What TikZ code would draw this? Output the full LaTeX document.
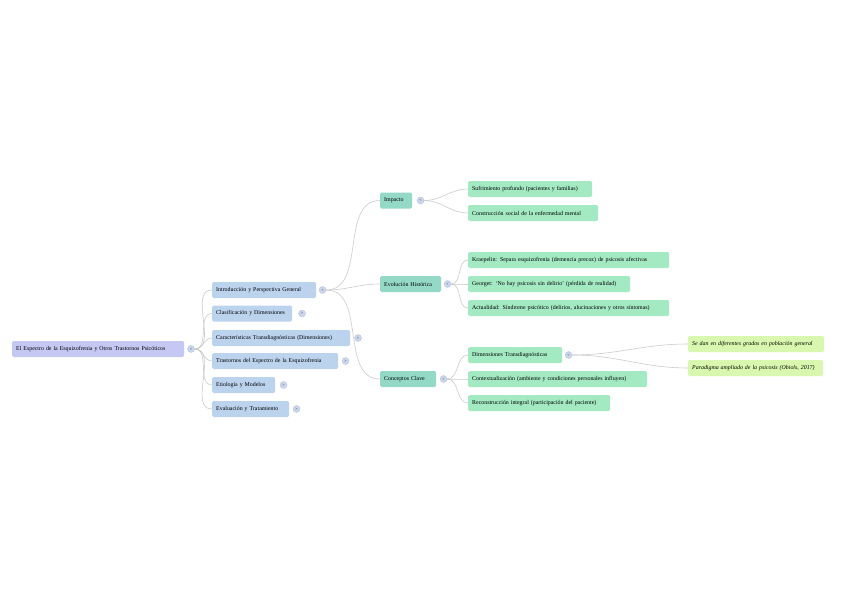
\documentclass[tikz,border=0pt]{standalone}
\usepackage{fontspec}
\setmainfont{Liberation Serif}
\usepackage{tikz}
\usetikzlibrary{positioning}
\definecolor{rootc}{HTML}{C6C8F4}
\definecolor{topicc}{HTML}{BCD3EE}
\definecolor{branchc}{HTML}{93D9C6}
\definecolor{leafc}{HTML}{A3E9C1}
\definecolor{subleafc}{HTML}{D9F7AE}
\definecolor{linkc}{HTML}{CCCCCC}
\definecolor{togglec}{HTML}{CBD7EF}
\tikzstyle{box}=[rounded corners=1.5pt, minimum height=16pt, inner xsep=4pt, inner ysep=0pt, anchor=west, align=left, font=\fontsize{5.9}{6.5}\selectfont]
\tikzstyle{root}=[box, fill=rootc]
\tikzstyle{topic}=[box, fill=topicc]
\tikzstyle{branch}=[box, fill=branchc]
\tikzstyle{leaf}=[box, fill=leafc]
\tikzstyle{subleaf}=[box, fill=subleafc, font=\fontsize{5.9}{6.5}\selectfont\itshape]
\tikzstyle{toggle}=[circle, fill=togglec, draw=togglec!70!gray, line width=0.3pt, minimum size=7pt, inner sep=0pt, font=\fontsize{4}{4}\selectfont]
\tikzstyle{link}=[draw=linkc, line width=0.6pt]

\begin{document}
\begin{tikzpicture}[x=1pt,y=-1pt,node distance=3pt]
	\useasboundingbox[fill=white] (0,0) rectangle (848,599);
	% root
	\node[root, text width=164pt] (root) at (12,349) {El Espectro de la Esquizofrenia y Otros Trastornos Psicóticos};
	\node[toggle, right=3pt of root] (tRoot) {<};
	% main topics
	\node[topic, text width=96pt] (intro) at (212,290) {Introducción y Perspectiva General};
	\node[toggle, right=2.5pt of intro] (tIntro) {<};
	\node[topic, text width=72pt] (clasif) at (212,313.5) {Clasificación y Dimensiones};
	\node[toggle, right=6pt of clasif] (tClasif) {>};
	\node[topic, text width=130pt] (caract) at (212,338) {Características Transdiagnósticas (Dimensiones)};
	\node[toggle, right=4pt of caract] (tCaract) {>};
	\node[topic, text width=118pt] (trast) at (212,361) {Trastornos del Espectro de la Esquizofrenia};
	\node[toggle, right=3.5pt of trast] (tTrast) {>};
	\node[topic, text width=55pt] (etiol) at (212,385) {Etiología y Modelos};
	\node[toggle, right=4.5pt of etiol] (tEtiol) {>};
	\node[topic, text width=69pt] (evalua) at (212,409) {Evaluación y Tratamiento};
	\node[toggle, right=3.5pt of evalua] (tEvalua) {>};
	% branches of the introduction
	\node[branch, text width=24pt] (impacto) at (380,200.5) {Impacto};
	\node[toggle, right=4.5pt of impacto] (tImpacto) {<};
	\node[branch, text width=53pt] (evol) at (380,284) {Evolución Histórica};
	\node[toggle, right=2.5pt of evol] (tEvol) {<};
	\node[branch, text width=48pt] (concep) at (380,379) {Conceptos Clave};
	\node[toggle, right=3.5pt of concep] (tConcep) {<};
	% leaves
	\node[leaf, text width=116pt] (sufr) at (468,189) {Sufrimiento profundo (pacientes y familias)};
	\node[leaf, text width=122pt] (constr) at (468,213) {Construcción social de la enfermedad mental};
	\node[leaf, text width=193pt] (kraep) at (468,260) {Kraepelin: Separa esquizofrenia (demencia precoz) de psicosis afectivas};
	\node[leaf, text width=154pt] (georg) at (468,284) {Georget: ‘No hay psicosis sin delirio’ (pérdida de realidad)};
	\node[leaf, text width=193pt] (actual) at (468,308) {Actualidad: Síndrome psicótico (delirios, alucinaciones y otros síntomas)};
	\node[leaf, text width=86pt] (dimen) at (468,355) {Dimensiones Transdiagnósticas};
	\node[toggle, right=2.5pt of dimen] (tDimen) {<};
	\node[leaf, text width=171pt] (context) at (468,379) {Contextualización (ambiente y condiciones personales influyen)};
	\node[leaf, text width=134pt] (recons) at (468,403) {Reconstrucción integral (participación del paciente)};
	\node[subleaf, text width=128pt] (sedan) at (688,344) {Se dan en diferentes grados en población general};
	\node[subleaf, text width=127pt] (parad) at (688,368) {Paradigma ampliado de la psicosis (Obiols, 2017)};
	% links
	\foreach \child in {intro,clasif,caract,trast,etiol,evalua}
		\path[link] (tRoot) edge[out=0,in=180] (\child.west);
	\foreach \child in {impacto,evol,concep}
		\path[link] (tIntro) edge[out=0,in=180] (\child.west);
	\foreach \child in {sufr,constr}
		\path[link] (tImpacto) edge[out=0,in=180] (\child.west);
	\foreach \child in {kraep,georg,actual}
		\path[link] (tEvol) edge[out=0,in=180] (\child.west);
	\foreach \child in {dimen,context,recons}
		\path[link] (tConcep) edge[out=0,in=180] (\child.west);
	\foreach \child in {sedan,parad}
		\path[link] (tDimen) edge[out=0,in=180] (\child.west);
\end{tikzpicture}
\end{document}
